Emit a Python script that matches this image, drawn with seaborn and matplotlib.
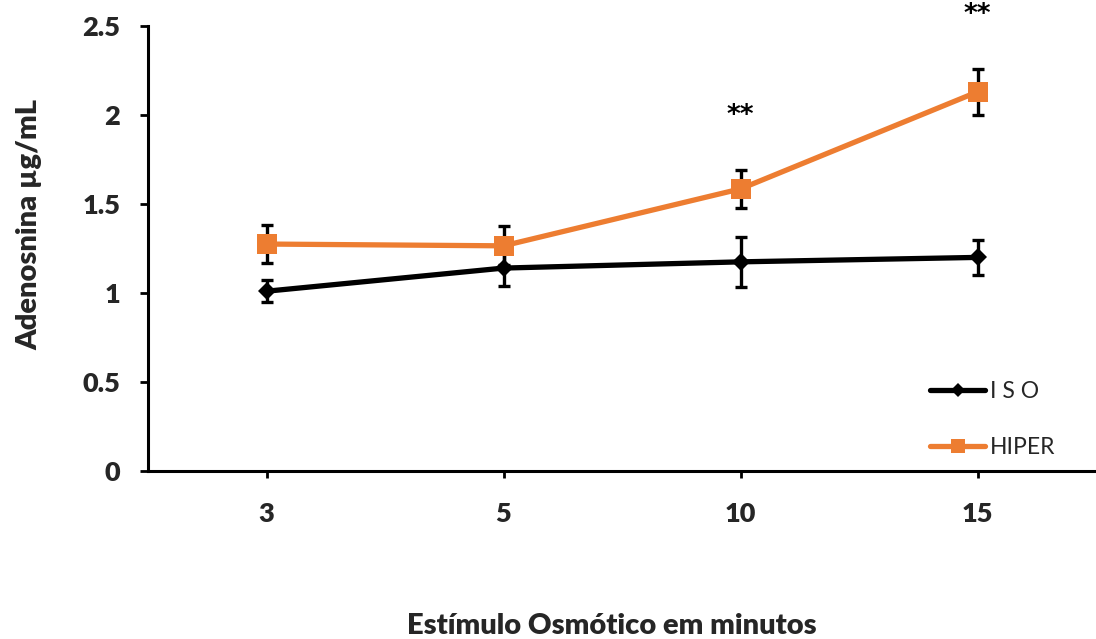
import numpy as np
import pandas as pd
import matplotlib
matplotlib.use("Agg")
import matplotlib.pyplot as plt
import seaborn as sns

# Dados: adenosina (µg/mL) por tempo de estímulo osmótico
tempos = ["3", "5", "10", "15"]
iso_media = [1.01, 1.14, 1.175, 1.20]
iso_erro = [0.062, 0.10, 0.14, 0.10]
hiper_media = [1.275, 1.265, 1.585, 2.13]
hiper_erro = [0.107, 0.11, 0.107, 0.13]
significancia = ["", "", "**", "**"]
grupos = ["I S O", "HIPER"]

cores = {"I S O": "#000000", "HIPER": "#ED7D31"}

sns.set_theme(style="white")
plt.rcParams["font.family"] = ["Lato", "DejaVu Sans"]

df = pd.DataFrame({
    "tempo": tempos * 2,
    "valor": iso_media + hiper_media,
    "grupo": [grupos[0]] * len(tempos) + [grupos[1]] * len(tempos),
})

fig = plt.figure(figsize=(10.96, 6.39), dpi=100)
ax = fig.add_axes([148 / 1096, 1 - 471 / 639, 1 - 148 / 1096, (471 - 26) / 639])

pos = np.arange(len(tempos))
for medias, erros in ((iso_media, iso_erro), (hiper_media, hiper_erro)):
    ax.errorbar(pos, medias, yerr=erros, fmt="none", ecolor="black",
                elinewidth=2.4, capsize=4.5, capthick=2.4, zorder=1)

sns.pointplot(data=df, x="tempo", y="valor", hue="grupo", order=tempos,
              hue_order=grupos, palette=cores, markers=["D", "s"],
              linestyles=["-", "-"], errorbar=None, ax=ax,
              markersize=10, linewidth=3.8)

# Marcadores: losango para ISO, quadrado maior para HIPER
for ln in ax.lines:
    ln.set_zorder(3)
    if ln.get_marker() == "s":
        ln.set_markersize(14)
        ln.set_markeredgewidth(0)
    elif ln.get_marker() == "D":
        ln.set_markersize(9.5)
        ln.set_markeredgewidth(0)

# Asteriscos de significância acima das barras de erro do grupo HIPER
for i, s in enumerate(significancia):
    if s:
        ax.text(i, hiper_media[i] + hiper_erro[i] + 0.30, s, ha="center",
                va="center", fontsize=19, fontweight="bold", color="black",
                clip_on=False, family="DejaVu Sans")

ax.set_xlim(-0.5, len(tempos) - 0.5)
ax.set_ylim(0, 2.5)
ax.set_yticks([0, 0.5, 1, 1.5, 2, 2.5])
ax.set_yticklabels(["0", "0.5", "1", "1.5", "2", "2.5"])

for side in ("top", "right"):
    ax.spines[side].set_visible(False)
for side in ("left", "bottom"):
    ax.spines[side].set_color("black")
    ax.spines[side].set_linewidth(2.2)

ax.tick_params(axis="y", which="major", direction="out", length=6, width=2,
               color="black", pad=14, labelsize=19.5)
ax.tick_params(axis="x", which="major", direction="out", length=5, width=2,
               color="black", pad=17, labelsize=19.5)
ax.tick_params(left=True, bottom=True)
for lab in ax.get_xticklabels() + ax.get_yticklabels():
    lab.set_fontweight("heavy")

ax.set_xlabel("Estímulo Osmótico em minutos", fontsize=21, fontweight="heavy")
ax.set_ylabel("Adenosnina µg/mL", fontsize=21, fontweight="heavy")
ax.xaxis.set_label_coords((612 - 148) / 948, (471 - 613) / 445)
ax.yaxis.set_label_coords((42 - 148) / 948, (471 - 225) / 445)
ax.grid(False)

handles, labels = ax.get_legend_handles_labels()
leg = ax.legend(handles, labels, loc="center left",
                bbox_to_anchor=((930 - 148) / 948, (471 - 419.5) / 445),
                frameon=False, fontsize=16.5, handlelength=2.4,
                handletextpad=0.2, labelspacing=1.55, borderpad=0,
                borderaxespad=0)
for h, ms in zip(leg.legend_handles, [7, 10]):
    h.set_linewidth(3.8)
    h.set_markersize(ms)

fig.savefig("out.png", dpi=100)
